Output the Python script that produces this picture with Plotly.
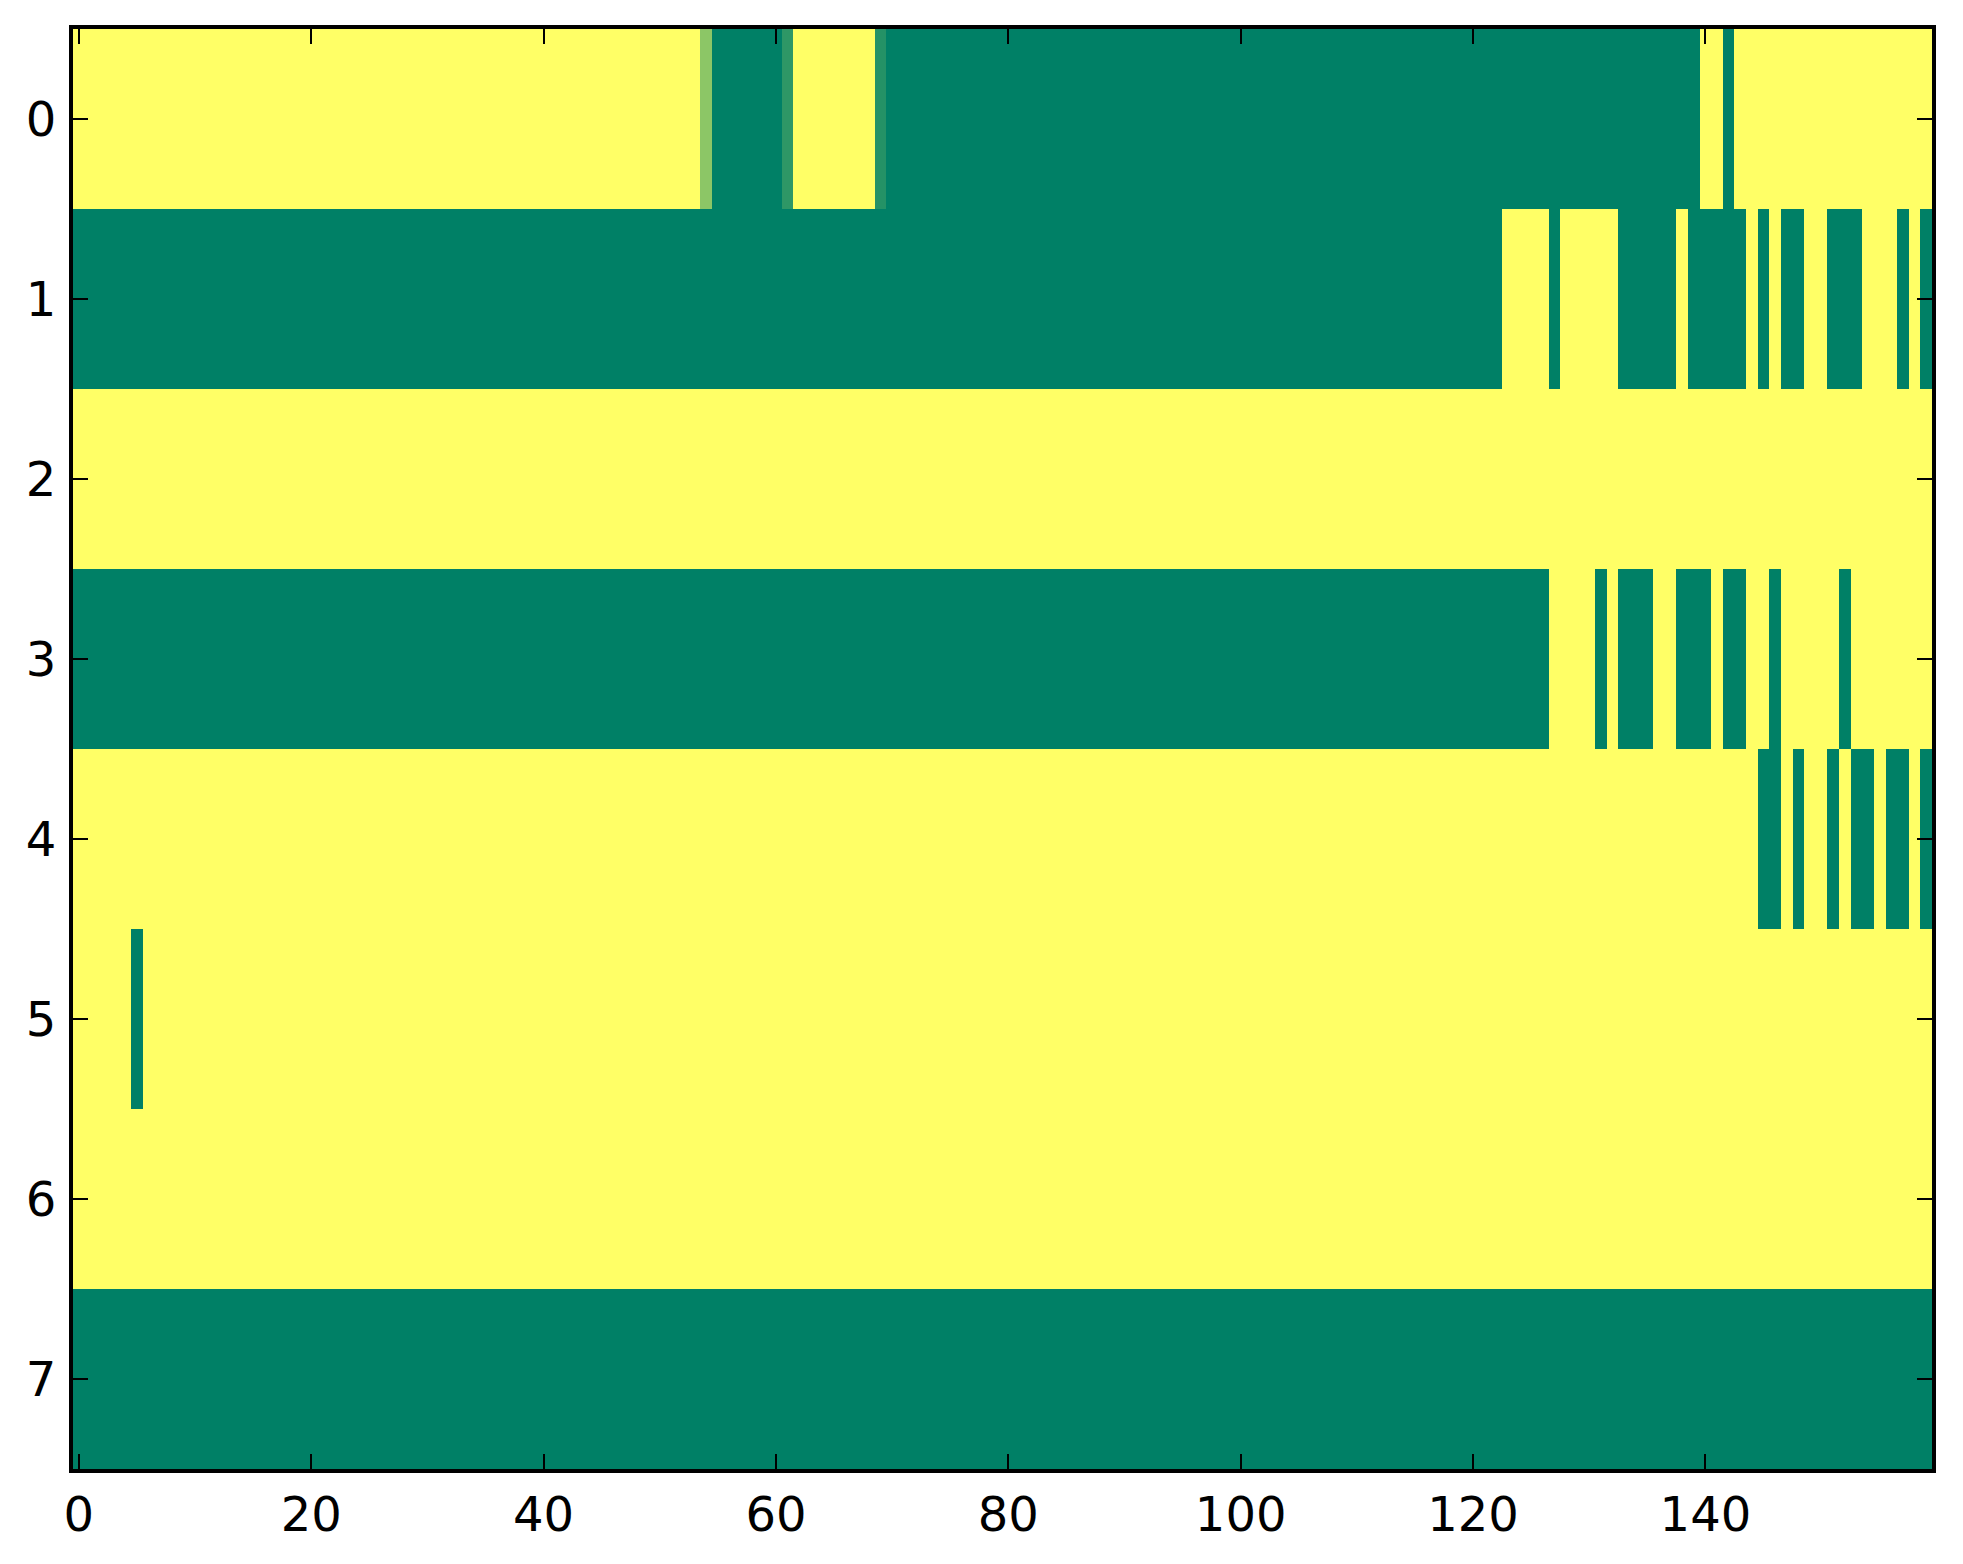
import plotly.graph_objects as go

# cell values per row: '1' = yellow, '0' = green, letters = blended cells
row_0 = "1" * 54 + "a" + "0" * 6 + "b" + "1" * 7 + "c" + "0" * 70 + "11" + "0" + "1" * 17
row_1 = ("0" * 123 + "1111" + "0" + "11111" + "00000" + "1" + "00000" + "1" + "0" + "1"
         + "00" + "11" + "000" + "111" + "0" + "1" + "0")
row_2 = "1" * 160
row_3 = ("0" * 127 + "1111" + "0" + "1" + "000" + "11" + "000" + "1" + "00" + "11" + "0"
         + "11111" + "0" + "1" * 7)
row_4 = "1" * 145 + "00" + "1" + "0" + "11" + "0" + "1" + "00" + "1" + "00" + "1" + "0"
row_5 = "1" * 5 + "0" + "1" * 154
row_6 = "1" * 160
row_7 = "0" * 160

partial = {"a": 0.55, "b": 0.18, "c": 0.14}

rows = [row_0, row_1, row_2, row_3, row_4, row_5, row_6, row_7]
z = [[partial[c] if c in partial else float(c) for c in r] for r in rows]

x_ticks = [0, 20, 40, 60, 80, 100, 120, 140]
y_ticks = [0, 1, 2, 3, 4, 5, 6, 7]

# matplotlib "summer" colormap is linear between these two colours
summer = [[0.0, "#008066"], [1.0, "#ffff66"]]

fig = go.Figure(go.Heatmap(
    z=z,
    x=list(range(160)),
    y=list(range(8)),
    colorscale=summer,
    zmin=0, zmax=1,
    showscale=False,
    hoverinfo="skip",
))

axis_style = dict(
    showgrid=False, zeroline=False,
    showline=True, linecolor="black", linewidth=4, mirror="allticks",
    ticks="inside", ticklen=15, tickwidth=2, tickcolor="black",
    tickfont=dict(family="DejaVu Sans", size=48, color="black"),
)

fig.update_xaxes(range=[-0.5, 159.5], tickvals=x_ticks, ticklabelstandoff=0, **axis_style)
fig.update_yaxes(range=[7.5, -0.5], tickvals=y_ticks, ticklabelstandoff=3, **axis_style)

# page body keeps an 8px margin, so the figure is sized to fit inside the window
fig.update_layout(
    width=1947, height=1548,
    margin=dict(l=65, r=23, t=21, b=87),
    paper_bgcolor="white",
    plot_bgcolor="white",
)

fig.write_html("out.html")
